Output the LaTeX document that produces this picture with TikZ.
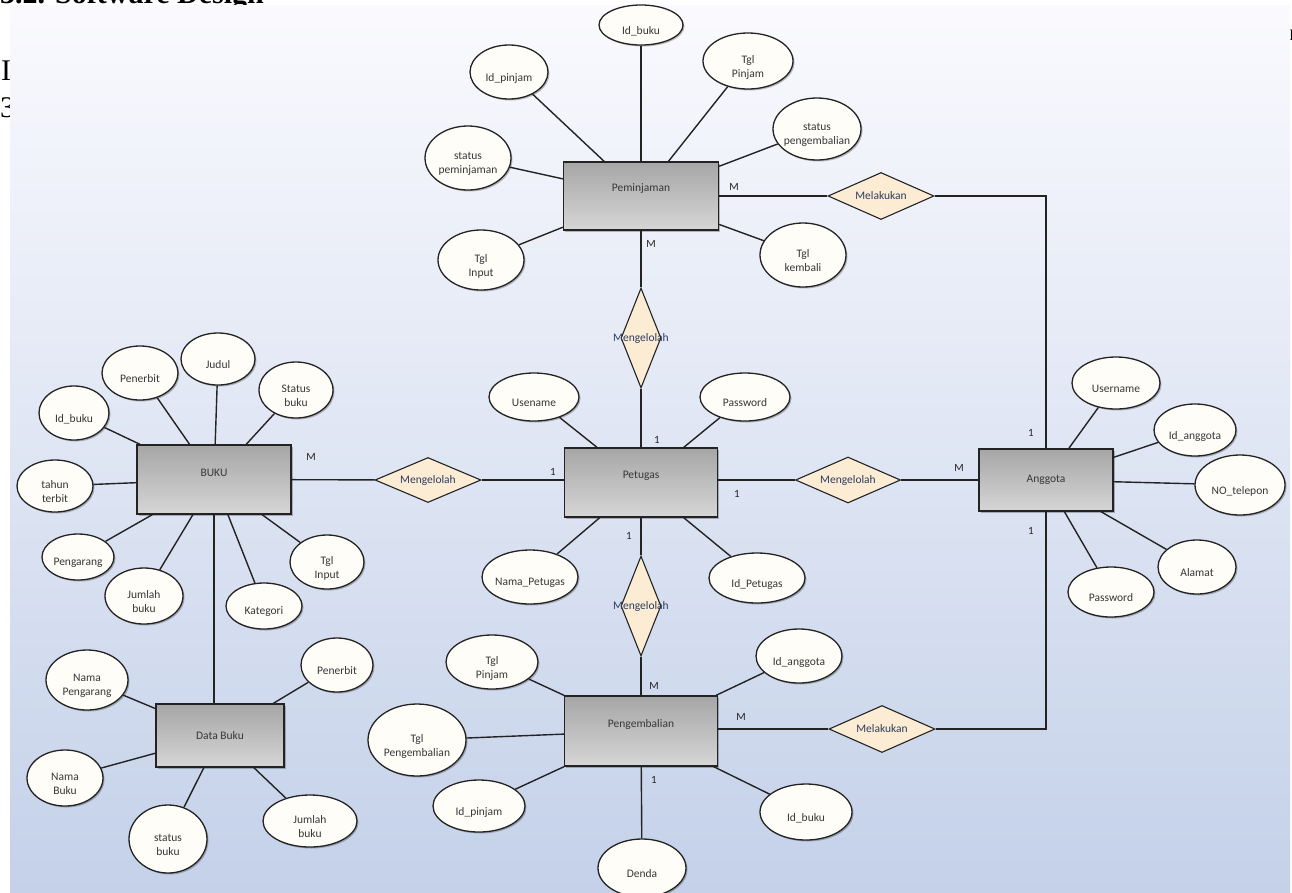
\documentclass[tikz,border=0pt]{standalone}
\usepackage{fontspec}
\setmainfont{Carlito}
\newfontfamily\headfont{Liberation Serif}
\usetikzlibrary{shapes.geometric,shadows}

\definecolor{bgtop}{RGB}{250,250,254}
\definecolor{bgbot}{RGB}{196,209,233}
\definecolor{enttop}{RGB}{166,166,166}
\definecolor{entbot}{RGB}{214,214,214}
\definecolor{relfill}{RGB}{252,236,212}
\definecolor{attrfill}{RGB}{255,253,248}
\definecolor{ink}{RGB}{35,35,35}
\definecolor{txt}{RGB}{55,55,55}
\definecolor{reltxt}{RGB}{45,60,95}

\tikzset{
  shad/.style={drop shadow={shadow xshift=1.5pt,shadow yshift=-1.5pt,opacity=0.25,fill=black}},
  entity/.style={rectangle, draw=ink, line width=1.3pt, top color=enttop, bottom color=entbot, inner sep=0pt, shad},
  enttext/.style={font=\fontsize{11.5}{14}\selectfont, text=txt, yshift=7pt, inner sep=0pt},
  attr/.style={ellipse, draw=ink, line width=1.3pt, fill=attrfill, inner sep=0pt, shad},
  attrtext/.style={font=\fontsize{11.5}{14}\selectfont, text=txt, align=center, yshift=-6pt, inner sep=0pt},
  rel/.style={diamond, draw=ink, line width=1.1pt, fill=relfill, inner sep=0pt, aspect=1},
  reltext/.style={font=\fontsize{11.5}{14}\selectfont, text=reltxt, inner sep=0pt},
  conn/.style={draw=ink, line width=1.4pt},
  card/.style={font=\fontsize{11}{12}\selectfont, text=ink, inner sep=0pt},
  bodytext/.style={font=\headfont\fontsize{30}{34}\selectfont, text=black, inner sep=0pt}
}
\newcommand{\attrnode}[5]{\node[attr, minimum width=#3pt, minimum height=#4pt, label={[attrtext]center:{#5}}] (#1) at (#2) {};}
\newcommand{\entnode}[5]{\node[entity, minimum width=#3pt, minimum height=#4pt, label={[enttext]center:{#5}}] (#1) at (#2) {};}
\newcommand{\relnode}[5]{\node[rel, minimum width=#3pt, minimum height=#4pt, label={[reltext]center:{#5}}] (#1) at (#2) {};}

\begin{document}
\begin{tikzpicture}[x=1pt,y=-1pt]
\useasboundingbox (0,0) rectangle (1292,892);
\clip (0,0) rectangle (1292,892);

% page fragments behind the panel
\node[bodytext, anchor=base west] (head) at (0,3.5) {\bfseries 3.2. Software Design};
\node[bodytext, anchor=base west] (fragI) at (1,80) {I};
\node[bodytext, anchor=base west] (fragT) at (0,117) {3};
\node[bodytext, anchor=base west, font=\headfont\fontsize{16}{18}\selectfont] (fragR) at (1289,40) {I};

% diagram panel
\fill[top color=bgtop, bottom color=bgbot] (10,5) rectangle (1290,892);

% entities
\entnode{pem}{641,196}{155}{68}{Peminjaman}
\entnode{pet}{641,482.5}{153}{69}{Petugas}
\entnode{peng}{641,731}{153}{70}{Pengembalian}
\entnode{buku}{214,479.5}{154}{69}{BUKU}
\node[entity, minimum width=128pt, minimum height=63pt, label={[enttext, yshift=-7pt]center:{Data Buku}}] (dbuku) at (220,735.5) {};
\node[entity, minimum width=134pt, minimum height=62pt, label={[enttext, yshift=-7pt]center:{Anggota}}] (ang) at (1046,480) {};

% relationships
\relnode{melA}{881,196}{106}{47}{Melakukan}
\relnode{melB}{882,729}{106}{47}{Melakukan}
\relnode{mgTop}{641,338}{40}{100}{Mengelolah}
\relnode{mgBot}{641,606}{40}{100}{Mengelolah}
\relnode{mgLeft}{428,480}{106}{45}{Mengelolah}
\relnode{mgRight}{848,480}{105}{46}{Mengelolah}

% Peminjaman attributes
\attrnode{pIdBuku}{641,25}{84}{40}{Id\_buku}
\attrnode{pIdPinjam}{509,72}{78}{54}{Id\_pinjam}
\attrnode{pTglPinjam}{748,61}{90}{56}{Tgl\\Pinjam}
\attrnode{pStatPem}{468,158}{86}{64}{status\\peminjaman}
\attrnode{pStatPeng}{817,129}{88}{62}{status\\pengembalian}
\attrnode{pTglInput}{481,260}{86}{60}{Tgl\\Input}
\attrnode{pTglKembali}{803,255}{86}{64}{Tgl\\kembali}

% Petugas attributes
\attrnode{tUser}{534,397}{90}{48}{Usename}
\attrnode{tPass}{745,397}{90}{48}{Password}
\attrnode{tNama}{530,577}{96}{54}{Nama\_Petugas}
\attrnode{tId}{757,578}{96}{50}{Id\_Petugas}

% BUKU attributes
\attrnode{bIdBuku}{74,413}{70}{54}{Id\_buku}
\attrnode{bPenerbit}{140,373}{76}{54}{Penerbit}
\attrnode{bJudul}{218,359}{74}{52}{Judul}
\attrnode{bStatus}{296,390}{74}{56}{Status\\buku}
\attrnode{bTahun}{55,486}{76}{52}{tahun\\terbit}
\attrnode{bPengarang}{78,557}{72}{46}{Pengarang}
\attrnode{bJumlah}{144,596}{78}{56}{Jumlah\\buku}
\attrnode{bKategori}{264,606}{76}{46}{Kategori}
\attrnode{bTglInput}{327,562}{74}{54}{Tgl\\Input}

% Data Buku attributes
\attrnode{dNamaPeng}{87,680}{82}{60}{Nama\\Pengarang}
\attrnode{dPenerbit}{337,665}{72}{54}{Penerbit}
\attrnode{dNamaBuku}{65,778}{76}{56}{Nama\\Buku}
\attrnode{dStatus}{168,839}{78}{68}{status\\buku}
\attrnode{dJumlah}{310,821}{94}{52}{Jumlah\\buku}

% Pengembalian attributes
\attrnode{gTglPinjam}{492,662}{92}{54}{Tgl\\Pinjam}
\attrnode{gTglPeng}{417,740}{98}{72}{Tgl\\Pengembalian}
\attrnode{gIdPinjam}{479,806}{92}{52}{Id\_pinjam}
\attrnode{gDenda}{642,868}{88}{58}{Denda}
\attrnode{gIdBuku}{806,812}{92}{56}{Id\_buku}
\attrnode{gIdAnggota}{799,656}{86}{54}{Id\_anggota}

% Anggota attributes
\attrnode{aUser}{1116,383}{88}{52}{Username}
\attrnode{aId}{1195,430}{82}{52}{Id\_anggota}
\attrnode{aTelp}{1240,485}{90}{60}{NO\_telepon}
\attrnode{aAlamat}{1197,567}{78}{54}{Alamat}
\attrnode{aPass}{1111,592}{86}{50}{Password}

% attribute connectors
\foreach \a in {pIdBuku,pIdPinjam,pTglPinjam,pStatPem,pStatPeng,pTglInput,pTglKembali}
  \draw[conn] (\a) -- (pem);
\foreach \a in {tUser,tPass,tNama,tId}
  \draw[conn] (\a) -- (pet);
\foreach \a in {bIdBuku,bPenerbit,bJudul,bStatus,bTahun,bPengarang,bJumlah,bKategori,bTglInput}
  \draw[conn] (\a) -- (buku);
\foreach \a in {dNamaPeng,dPenerbit,dNamaBuku,dStatus,dJumlah}
  \draw[conn] (\a) -- (dbuku);
\foreach \a in {gTglPinjam,gTglPeng,gIdPinjam,gDenda,gIdBuku,gIdAnggota}
  \draw[conn] (\a) -- (peng);
\foreach \a in {aUser,aId,aTelp,aAlamat,aPass}
  \draw[conn] (\a) -- (ang);

% relationship connectors
\draw[conn] (pem) -- (mgTop);
\draw[conn] (mgTop) -- (pet);
\draw[conn] (pet) -- (mgBot);
\draw[conn] (mgBot) -- (peng);
\draw[conn] (buku) -- (mgLeft);
\draw[conn] (mgLeft.east) -- (mgLeft.east -| pet.west);
\draw[conn] (pet.east |- mgRight.west) -- (mgRight.west);
\draw[conn] (mgRight) -- (ang);
\draw[conn] (pem) -- (melA);
\draw[conn, line width=1.1pt] (melA) -| (ang);
\draw[conn, line width=1.1pt] (ang) |- (melB);
\draw[conn] (peng.east |- melB.west) -- (melB.west);
\draw[conn] (buku.south) -- (buku.south |- dbuku.north);

% cardinalities
\node[card] (c1) at (734,187) {M};
\node[card] (c2) at (651,244) {M};
\node[card] (c3) at (657,440) {1};
\node[card] (c4) at (553,472) {1};
\node[card] (c5) at (737,494) {1};
\node[card] (c6) at (629,536) {1};
\node[card] (c7) at (311,457) {M};
\node[card] (c8) at (959,468) {M};
\node[card] (c9) at (1031,433) {1};
\node[card] (c10) at (1031,531) {1};
\node[card] (c11) at (654,686) {M};
\node[card] (c12) at (741,717) {M};
\node[card] (c13) at (654,780) {1};
\end{tikzpicture}
\end{document}
